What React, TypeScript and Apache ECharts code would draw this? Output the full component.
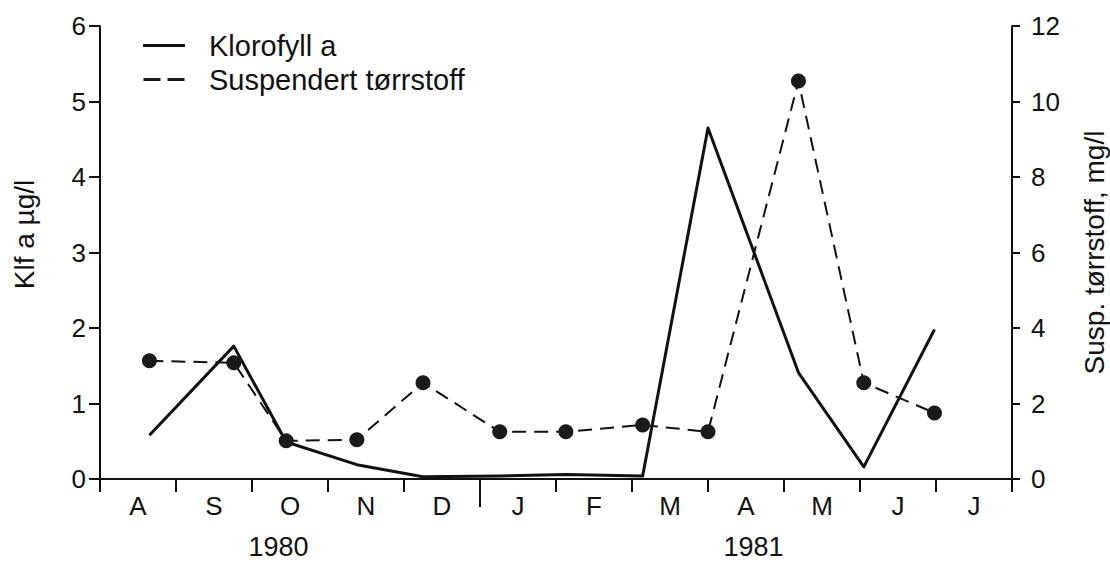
import React, { useEffect, useRef } from "react";
import * as echarts from "echarts";

const months = ["A", "S", "O", "N", "D", "J", "F", "M", "A", "M", "J", "J"];
// sampling dates expressed in months since 1 Aug 1980
const sampleMonths = [0.65, 1.76, 2.45, 3.38, 4.25, 5.26, 6.13, 7.14, 8.0, 9.19, 10.05, 10.98];
const klorofyll = [0.58, 1.76, 0.49, 0.19, 0.03, 0.04, 0.06, 0.04, 4.65, 1.41, 0.16, 1.98];
const suspendert = [3.13, 3.08, 1.01, 1.04, 2.55, 1.25, 1.25, 1.43, 1.25, 10.54, 2.55, 1.75];
const yearLabels = ["1980", "1981"];
const yearLabelPos = [2.35, 8.6];
const yearBoundary = [5];

const FONT = '"Liberation Sans", Arial, Helvetica, sans-serif';
const INK = "#111";

export default function App() {
  const ref = useRef<HTMLDivElement>(null);

  useEffect(() => {
    document.body.style.margin = "0";
    const chart = echarts.init(ref.current!, undefined, { renderer: "svg" });
    const option: any = {
      animation: false,
      backgroundColor: "#fff",
      textStyle: { fontFamily: FONT, color: INK },
      grid: { left: 100, right: 98, top: 26, bottom: 83, outerBoundsMode: "none" },
      legend: {
        orient: "vertical",
        left: 138,
        top: 26,
        itemWidth: 42,
        itemHeight: 3,
        itemGap: 5,
        textStyle: { fontSize: 29, color: INK, fontFamily: FONT, padding: [0, 0, 0, 19] },
        data: [
          { name: "Klorofyll a", icon: "rect" },
          { name: "Suspendert tørrstoff", icon: "path://M0,0h17v3h-17z M24,0h17v3h-17z" },
        ],
      },
      xAxis: [
        {
          type: "category",
          position: "bottom",
          data: months,
          boundaryGap: true,
          axisLine: { show: true, lineStyle: { color: INK, width: 2 } },
          axisTick: { show: true, interval: 0, alignWithLabel: false, length: 13, lineStyle: { color: INK, width: 2 } },
          axisLabel: { interval: 0, fontSize: 26, color: INK, fontFamily: FONT, margin: 14 },
          splitLine: { show: false },
        },
        {
          type: "value",
          position: "bottom",
          min: 0,
          max: 12,
          axisLine: { show: false },
          axisTick: { show: true, customValues: yearBoundary, length: 28, lineStyle: { color: INK, width: 2 } },
          axisLabel: {
            show: true,
            customValues: yearLabelPos,
            fontSize: 27,
            color: INK,
            fontFamily: FONT,
            margin: 54,
            formatter: (v: number) => {
              const i = yearLabelPos.findIndex((p) => Math.abs(p - v) < 1e-6);
              return i >= 0 ? yearLabels[i] : "";
            },
          },
          splitLine: { show: false },
        },
      ],
      yAxis: [
        {
          type: "value",
          position: "left",
          min: 0,
          max: 6,
          interval: 1,
          name: "Klf a µg/l",
          nameLocation: "middle",
          nameRotate: 90,
          nameGap: 62,
          nameTextStyle: { fontSize: 28, color: INK, fontFamily: FONT, padding: [0, 0, 0, 36] },
          axisLine: { show: true, lineStyle: { color: INK, width: 2 } },
          axisTick: { show: true, length: 11, lineStyle: { color: INK, width: 2 } },
          axisLabel: { fontSize: 26, color: INK, fontFamily: FONT, margin: 14 },
          splitLine: { show: false },
        },
        {
          type: "value",
          position: "right",
          min: 0,
          max: 12,
          interval: 2,
          name: "Susp. tørrstoff, mg/l",
          nameLocation: "middle",
          nameRotate: 90,
          nameGap: 68,
          nameTextStyle: { fontSize: 28, color: INK, fontFamily: FONT },
          axisLine: { show: true, lineStyle: { color: INK, width: 2 } },
          axisTick: { show: true, length: 8, lineStyle: { color: INK, width: 2 } },
          axisLabel: { fontSize: 26, color: INK, fontFamily: FONT, margin: 19 },
          splitLine: { show: false },
        },
      ],
      series: [
        {
          name: "Klorofyll a",
          type: "line",
          xAxisIndex: 1,
          yAxisIndex: 0,
          data: sampleMonths.map((x, i) => [x, klorofyll[i]]),
          symbol: "none",
          showSymbol: false,
          itemStyle: { color: INK },
          lineStyle: { color: INK, width: 3, join: "round" },
          z: 2,
        },
        {
          name: "Suspendert tørrstoff",
          type: "line",
          xAxisIndex: 1,
          yAxisIndex: 1,
          data: sampleMonths.map((x, i) => [x, suspendert[i]]),
          symbol: "circle",
          symbolSize: 15,
          itemStyle: { color: "#1a1a1a" },
          lineStyle: { color: INK, width: 2, type: [14, 8] },
          z: 3,
        },
      ],
    };
    chart.setOption(option);
    return () => chart.dispose();
  }, []);

  return <div ref={ref} style={{ width: 1110, height: 562 }} />;
}
